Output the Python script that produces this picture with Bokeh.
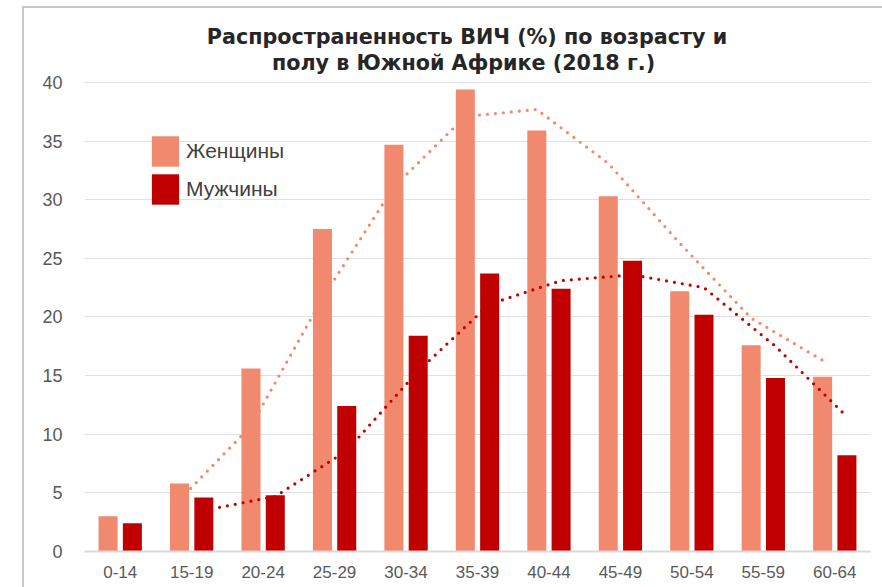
from bokeh.plotting import figure
from bokeh.models import (FactorRange, Range1d, Legend, LegendItem, Label,
                          ColumnDataSource)
from bokeh.transform import dodge
from bokeh.embed import file_html
from bokeh.resources import INLINE

# ---- data ----
ages = ["0-14", "15-19", "20-24", "25-29", "30-34", "35-39",
        "40-44", "45-49", "50-54", "55-59", "60-64"]
women = [3.0, 5.8, 15.6, 27.5, 34.7, 39.4, 35.9, 30.3, 22.2, 17.6, 14.9]
men = [2.4, 4.6, 4.8, 12.4, 18.4, 23.7, 22.4, 24.8, 20.2, 14.8, 8.2]
# dotted trend lines (2-period moving average), from 15-19 to 60-64
trend_ages = ages[1:]
women_trend = [4.4, 10.7, 21.6, 31.1, 37.1, 37.7, 33.1, 26.3, 19.9, 16.3]
men_trend = [3.5, 4.7, 8.6, 15.4, 21.1, 23.1, 23.6, 22.5, 17.5, 11.5]
y_ticks = [0, 5, 10, 15, 20, 25, 30, 35, 40]
title_lines = ["Распространенность ВИЧ (%) по возрасту и",
               "полу в Южной Африке (2018 г.)"]
legend_labels = ["Женщины", "Мужчины"]

C_W = "#F0896E"
C_M = "#C00000"
FONT = "Liberation Sans"

bars = ColumnDataSource(dict(age=ages, women=women, men=men))
tw = ColumnDataSource(dict(age=trend_ages, v=women_trend))
tm = ColumnDataSource(dict(age=trend_ages, v=men_trend))

# the value axis runs 0-40; the extra room above 40 holds the title
p = figure(x_range=FactorRange(factors=ages, range_padding=0),
           y_range=Range1d(0, 46.14),
           width=882, height=587, output_backend="svg",
           toolbar_location=None, tools="")
p.min_border_left = 84
p.min_border_right = 12
p.min_border_top = 10
p.min_border_bottom = 36
p.outline_line_color = None
p.background_fill_color = "white"
p.border_fill_alpha = 0

# outer chart frame (light grey, left and top edges), painted behind the canvas
p.styles = {
    "position": "fixed", "top": "0px", "left": "0px",
    "background-color": "white",
    "background-image": ("linear-gradient(#c8c8c8,#c8c8c8),"
                         "linear-gradient(#c8c8c8,#c8c8c8)"),
    "background-position": "22px 6px, 22px 6px",
    "background-size": "2px 100%, 100% 2px",
    "background-repeat": "no-repeat, no-repeat",
}

off = 0.17
bw = 0.266
# draw order: women trend, women bars, men trend, men bars
p.line(x=dodge("age", -off, range=p.x_range), y="v", source=tw,
       line_color=C_W, line_width=3.2, line_dash="0 8", line_cap="round")
rw = p.vbar(x=dodge("age", -off, range=p.x_range), top="women", width=bw,
            source=bars, fill_color=C_W, line_color=None)
p.line(x=dodge("age", off, range=p.x_range), y="v", source=tm,
       line_color=C_M, line_width=3.2, line_dash="0 8", line_cap="round")
rm = p.vbar(x=dodge("age", off, range=p.x_range), top="men", width=bw,
            source=bars, fill_color=C_M, line_color=None)

# axes
p.yaxis.ticker = y_ticks
p.yaxis.axis_line_color = None
p.yaxis.major_tick_line_color = None
p.yaxis.minor_tick_line_color = None
p.yaxis.major_label_standoff = 16
p.yaxis.major_label_text_font = FONT
p.yaxis.major_label_text_font_size = "18px"
p.yaxis.major_label_text_color = "#595959"

p.xaxis.axis_line_color = "#d9d9d9"
p.xaxis.axis_line_width = 2
p.xaxis.major_tick_line_color = None
p.xaxis.minor_tick_line_color = None
p.xaxis.major_label_standoff = 8
p.xaxis.major_label_text_font = FONT
p.xaxis.major_label_text_font_size = "17px"
p.xaxis.major_label_text_color = "#595959"

p.xgrid.grid_line_color = None
p.ygrid.grid_line_color = "#e0e0e0"
p.ygrid.grid_line_width = 1

# two-line title, placed above the 40 line
title_x = [5.353, 5.304]
title_y = [43.84, 41.62]
for i in range(2):
    p.add_layout(Label(x=title_x[i], y=title_y[i], text=title_lines[i],
                       text_align="center", text_baseline="alphabetic",
                       text_font="DejaVu Sans", text_font_size="20.7px",
                       text_font_style="bold", text_color="#262626"))

legend = Legend(items=[LegendItem(label=legend_labels[0], renderers=[rw]),
                       LegendItem(label=legend_labels[1], renderers=[rm])],
                location=(64, 343), orientation="vertical",
                glyph_width=34, glyph_height=38, spacing=0,
                label_standoff=4, padding=0, margin=0,
                label_text_font=FONT, label_text_font_size="21px",
                label_text_color="#404040",
                border_line_color=None, background_fill_alpha=0)
p.add_layout(legend)

open("out.html", "w").write(file_html(p, INLINE))
